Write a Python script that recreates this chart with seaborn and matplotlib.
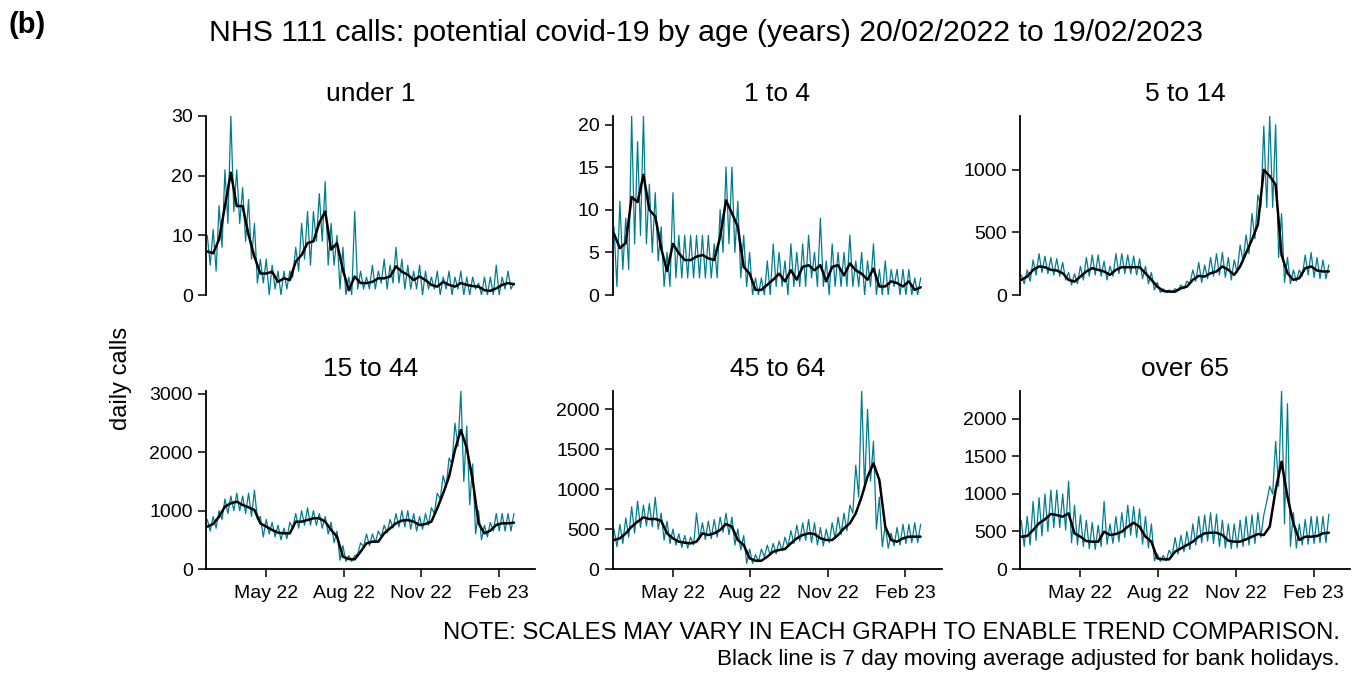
import numpy as np
import pandas as pd
import matplotlib
matplotlib.use("Agg")
import matplotlib.pyplot as plt
from matplotlib.ticker import MultipleLocator
import seaborn as sns

# ---- data ----
groups = ["under 1", "1 to 4", "5 to 14", "15 to 44", "45 to 64", "over 65"]
start = pd.Timestamp("2022-02-20")
tick_dates = ["2022-05-01", "2022-08-01", "2022-11-01", "2023-02-01"]
tick_labels = ["May 22", "Aug 22", "Nov 22", "Feb 23"]
y_steps = [10, 5, 500, 1000, 500, 500]

# black line: 7 day moving average, one reading per week (Sundays)
avg_under1 = [7.3, 7.0, 9.3, 14.9, 20.5, 14.9, 14.9, 10.1, 6.4, 3.6, 3.6, 3.9, 2.2, 2.8,
              2.5, 5.6, 6.7, 8.7, 9.0, 12.1, 14.0, 7.6, 8.7, 4.2, 0.8, 3.1, 2.0, 2.0,
              2.2, 2.8, 2.8, 3.1, 4.8, 3.9, 3.4, 2.5, 3.1, 2.5, 1.7, 1.4, 2.2, 1.7,
              1.4, 2.0, 1.7, 1.5, 1.4, 0.8, 0.7, 1.1, 1.7, 2.0, 1.8]
avg_1to4 = [7.2, 5.5, 6.1, 11.5, 10.9, 14.1, 10.0, 9.2, 5.5, 2.8, 6.0, 4.9, 4.1, 4.1,
            4.5, 4.7, 4.3, 4.1, 6.8, 11.1, 9.6, 8.0, 3.3, 2.5, 0.6, 0.6, 1.2, 1.8,
            2.5, 1.6, 2.9, 1.8, 3.3, 3.5, 2.9, 3.5, 1.6, 3.3, 3.5, 2.3, 3.7, 2.9,
            2.5, 1.8, 3.1, 1.0, 1.0, 1.6, 1.4, 1.0, 1.6, 0.6, 0.9]
avg_5to14 = [121, 147, 201, 228, 222, 201, 196, 174, 121, 107, 147, 188, 214, 201,
             188, 161, 201, 222, 222, 222, 222, 174, 121, 67, 32, 27, 27, 54,
             67, 121, 153, 147, 174, 188, 228, 201, 161, 228, 335, 442, 563, 1000,
             950, 880, 320, 174, 121, 134, 214, 228, 196, 188, 188]
avg_15to44 = [726, 771, 897, 1069, 1126, 1154, 1097, 1057, 1011, 783, 726, 669, 623, 611,
              611, 811, 811, 840, 869, 869, 811, 669, 554, 211, 171, 166, 297, 440,
              469, 469, 611, 697, 783, 829, 840, 811, 754, 771, 811, 1040, 1297, 1583,
              2040, 2383, 2069, 1526, 783, 611, 657, 754, 783, 783, 794]
avg_45to64 = [363, 384, 447, 530, 593, 647, 626, 626, 605, 447, 384, 342, 330, 321,
              342, 447, 426, 447, 489, 564, 530, 363, 301, 134, 104, 104, 154, 217,
              238, 251, 321, 384, 426, 447, 438, 384, 363, 363, 426, 509, 572, 697,
              906, 1157, 1324, 1115, 530, 363, 342, 384, 405, 405, 405]
avg_over65 = [430, 439, 519, 608, 661, 732, 718, 696, 741, 475, 430, 372, 364, 364,
              497, 452, 466, 497, 563, 616, 563, 430, 364, 142, 129, 129, 231, 275,
              319, 364, 430, 475, 483, 483, 452, 377, 364, 364, 395, 430, 466, 452,
              563, 1051, 1428, 962, 608, 386, 430, 430, 439, 475, 483]

# teal line: daily calls, read as weekend peaks (Sundays) and mid-week dips
peak_under1 = [10, 11, 15, 21, 30, 21, 18, 16, 12, 6, 6, 5, 4, 4, 4, 8, 12, 14, 14, 17,
               19, 12, 10, 8, 3, 14, 4, 3, 5, 4, 6, 5, 8, 6, 5, 4, 5, 4, 3, 4, 3, 4,
               3, 4, 3, 3, 2, 3, 3, 5, 3, 4, 2]
dip_under1 = [5, 4, 8, 12, 14, 12, 9, 6, 2, 2, 0, 1, 0, 1, 3, 4, 6, 5, 9, 9, 5, 5,
              1, 0, 0, 1, 1, 1, 1, 2, 1, 2, 2, 1, 1, 1, 0, 1, 1, 0, 1, 0, 1, 0,
              0, 1, 0, 0, 0, 0, 1, 1]
peak_1to4 = [8, 11, 9, 21, 18, 21, 13, 12, 8, 5, 12, 7, 7, 7, 7, 7, 7, 6, 10, 15,
             15, 11, 7, 5, 2, 2, 4, 6, 5, 4, 6, 5, 6, 7, 5, 9, 4, 6, 5, 5, 7, 4,
             5, 4, 6, 3, 4, 3, 3, 3, 3, 2, 2]
dip_1to4 = [1, 3, 3, 6, 7, 6, 5, 4, 1, 1, 2, 2, 2, 2, 2, 2, 2, 2, 5, 6, 5, 2,
            1, 0, 0, 0, 0, 1, 1, 0, 1, 1, 1, 2, 1, 1, 0, 1, 1, 1, 1, 1, 0, 1,
            0, 0, 0, 1, 0, 0, 0, 0]
peak_5to14 = [160, 200, 280, 330, 310, 300, 290, 260, 180, 170, 230, 300, 320, 320,
              270, 230, 330, 330, 320, 310, 290, 230, 180, 100, 50, 40, 50, 80,
              110, 200, 260, 240, 300, 330, 340, 300, 280, 400, 480, 650, 800, 1350,
              1430, 1360, 650, 300, 200, 200, 320, 340, 300, 280, 240]
dip_5to14 = [90, 110, 160, 180, 170, 160, 150, 120, 80, 90, 120, 150, 160, 150,
             120, 150, 170, 170, 170, 160, 130, 90, 40, 20, 20, 20, 40, 50,
             90, 110, 100, 130, 150, 160, 140, 120, 180, 270, 330, 450, 700, 700,
             700, 300, 100, 90, 110, 150, 160, 140, 130, 130]
peak_15to44 = [850, 900, 1000, 1200, 1250, 1300, 1250, 1300, 1350, 900, 850, 800, 750, 700,
               800, 950, 1000, 1050, 1000, 950, 900, 800, 650, 400, 230, 230, 450, 600,
               600, 650, 750, 850, 950, 1000, 1000, 950, 900, 950, 1050, 1300, 1600, 1900,
               2500, 3050, 2450, 1800, 1000, 750, 800, 950, 950, 950, 950]
dip_15to44 = [650, 700, 850, 950, 1000, 1000, 950, 900, 850, 550, 600, 550, 500, 520,
              700, 700, 750, 750, 750, 700, 600, 450, 150, 130, 130, 250, 380, 400,
              450, 550, 620, 700, 720, 720, 680, 650, 680, 750, 950, 1200, 1400, 1800,
              2100, 1500, 1100, 600, 500, 550, 650, 650, 650, 650]
peak_45to64 = [500, 560, 640, 780, 850, 800, 820, 900, 700, 600, 500, 440, 420, 400,
               700, 580, 600, 620, 650, 700, 650, 500, 420, 250, 180, 250, 300, 320,
               350, 400, 480, 550, 580, 620, 580, 520, 500, 580, 650, 700, 800, 1300,
               2230, 2000, 1600, 900, 550, 450, 520, 560, 560, 580, 560]
dip_45to64 = [280, 320, 400, 450, 520, 540, 530, 500, 360, 320, 300, 270, 260, 300,
              370, 370, 380, 400, 460, 430, 300, 240, 70, 70, 90, 150, 170, 190,
              230, 280, 320, 350, 360, 330, 300, 290, 330, 380, 430, 480, 700, 900,
              1000, 1100, 500, 280, 260, 290, 300, 320, 330, 330]
peak_over65 = [650, 700, 900, 950, 1000, 1050, 1050, 1000, 1170, 850, 720, 650, 620, 580,
               900, 600, 700, 750, 850, 830, 800, 700, 600, 200, 180, 250, 420, 450,
               500, 600, 700, 720, 750, 730, 650, 600, 600, 650, 700, 720, 750, 720,
               1100, 1700, 2370, 2200, 750, 600, 660, 700, 700, 700, 730]
dip_over65 = [300, 320, 380, 440, 500, 550, 550, 520, 350, 320, 300, 270, 260, 300,
              330, 340, 360, 420, 450, 420, 330, 280, 110, 100, 110, 170, 200, 230,
              260, 320, 350, 370, 340, 300, 280, 270, 280, 300, 320, 340, 420, 900,
              1000, 1100, 600, 300, 280, 320, 330, 340, 350, 350]

averages = [avg_under1, avg_1to4, avg_5to14, avg_15to44, avg_45to64, avg_over65]
peaks = [peak_under1, peak_1to4, peak_5to14, peak_15to44, peak_45to64, peak_over65]
dips = [dip_under1, dip_1to4, dip_5to14, dip_15to44, dip_45to64, dip_over65]

TEAL = "#007C91"

sns.set_theme(style="ticks")
plt.rcParams["font.family"] = ["Liberation Sans", "DejaVu Sans"]
plt.rcParams["text.color"] = "black"
plt.rcParams["axes.labelcolor"] = "black"

fig = plt.figure(figsize=(13.62, 6.73), dpi=100)
W, H = 1362, 673

# panel boxes in pixels: (left, width) per column, (top, bottom) per row
col_px = [(206, 329), (612.7, 329), (1020, 330)]
row_px = [(116, 295), (391, 569)]

for i, name in enumerate(groups):
    r, c = divmod(i, 3)
    left, width = col_px[c]
    top, bottom = row_px[r]
    ax = fig.add_axes([left / W, 1 - bottom / H, width / W, (bottom - top) / H])

    week_dates = start + pd.to_timedelta(np.arange(len(averages[i])) * 7, unit="D")
    peak_dates = start + pd.to_timedelta(np.arange(len(peaks[i])) * 7, unit="D")
    dip_dates = start + pd.to_timedelta(np.arange(len(dips[i])) * 7 + 3.5, unit="D")
    daily = pd.DataFrame({
        "date": list(peak_dates) + list(dip_dates),
        "calls": peaks[i] + dips[i],
    }).sort_values("date")
    smooth = pd.DataFrame({"date": week_dates, "calls": averages[i]})

    sns.lineplot(data=daily, x="date", y="calls", ax=ax, color=TEAL,
                 linewidth=0.9, estimator=None, sort=False)
    sns.lineplot(data=smooth, x="date", y="calls", ax=ax, color="black",
                 linewidth=1.8, estimator=None, sort=False)

    ax.set_xlim(start - pd.Timedelta(days=1.5), start + pd.Timedelta(days=389))
    ax.set_ylim(0, max(peaks[i]))
    ax.yaxis.set_major_locator(MultipleLocator(y_steps[i]))
    ax.set_xlabel("")
    ax.set_ylabel("")
    ax.set_title(name, fontsize=19, pad=11, color="black")
    for s in ["top", "right"]:
        ax.spines[s].set_visible(False)
    for s in ["left", "bottom"]:
        ax.spines[s].set_linewidth(1.3)
        ax.spines[s].set_color("black")
    ax.tick_params(axis="both", length=5.5, width=1.1, labelsize=14, colors="black", pad=4)
    if r == 0:
        ax.spines["bottom"].set_visible(False)
        ax.tick_params(axis="x", bottom=False, labelbottom=False)
    else:
        ax.set_xticks(pd.to_datetime(tick_dates))
        ax.set_xticklabels(tick_labels)
        ax.tick_params(axis="x", pad=6)
    ax.set_facecolor("white")

fig.text(8 / W, 1 - 25 / H, "(b)", fontsize=21, fontweight="bold", va="center", ha="left")
fig.text(706 / W, 1 - 33 / H, "NHS 111 calls: potential covid-19 by age (years) 20/02/2022 to 19/02/2023",
         fontsize=21.8, ha="center", va="center")
fig.text(121 / W, 1 - 378 / H, "daily calls", fontsize=17, rotation=90, ha="center", va="center")
fig.text(1340 / W, 1 - 633 / H, "NOTE: SCALES MAY VARY IN EACH GRAPH TO ENABLE TREND COMPARISON.",
         fontsize=17.2, ha="right", va="center")
fig.text(1340 / W, 1 - 659 / H, "Black line is 7 day moving average adjusted for bank holidays.",
         fontsize=16.2, ha="right", va="center")

fig.savefig("out.png", dpi=100, facecolor="white")
